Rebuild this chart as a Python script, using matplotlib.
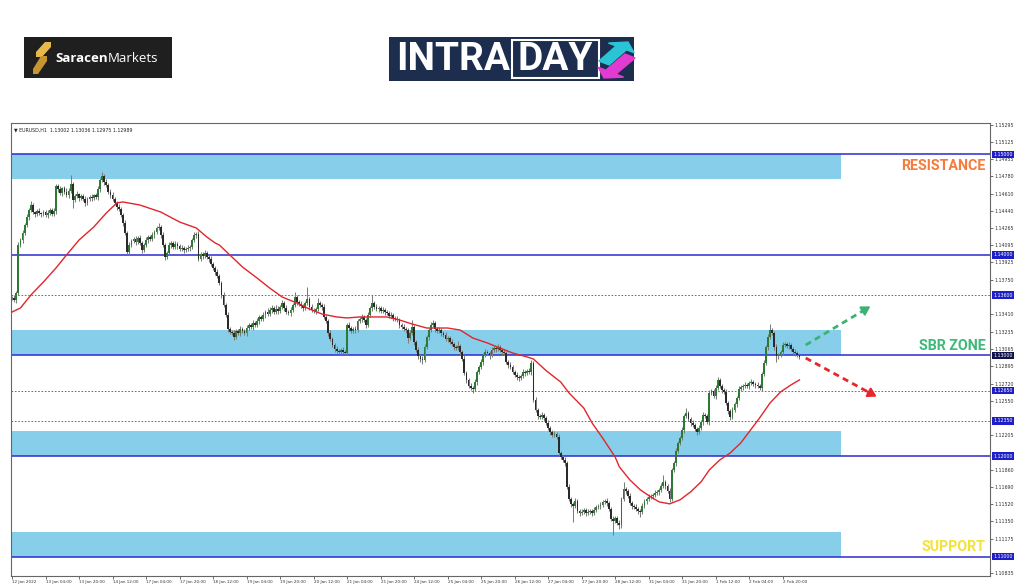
import matplotlib
matplotlib.use("Agg")
import matplotlib.pyplot as plt
import matplotlib.transforms as mtransforms
from matplotlib.patches import Rectangle, Polygon, FancyArrow
import numpy as np

# ---------------- data ----------------
closes = [
    1.1357,1.1355,1.1362,1.1410,1.1415,1.1422,1.1430,1.1438,1.1445,1.1450,
    1.1443,1.1441,1.1444,1.1442,1.1441,1.1443,1.1440,1.1442,1.1445,1.1441,
    1.1444,1.1468,1.1465,1.1462,1.1466,1.1463,1.1460,1.1464,1.1470,1.1455,
    1.1459,1.1461,1.1457,1.1459,1.1456,1.1452,1.1456,1.1458,1.1457,1.1460,
    1.1458,1.1465,1.1474,1.1478,1.1472,1.1469,1.1463,1.1460,1.1456,1.1452,
    1.1448,1.1446,1.1440,1.1432,1.1422,1.1403,1.1410,1.1414,1.1416,1.1413,
    1.1417,1.1412,1.1405,1.1410,1.1415,1.1418,1.1416,1.1420,1.1423,1.1427,
    1.1428,1.1420,1.1410,1.1398,1.1402,1.1410,1.1412,1.1408,1.1411,1.1409,
    1.1406,1.1407,1.1405,1.1406,1.1407,1.1408,1.1415,1.1420,1.1421,1.1396,
    1.1401,1.1399,1.1402,1.1398,1.1396,1.1391,1.1387,1.1383,1.1379,1.1372,
    1.1360,1.1350,1.1340,1.1326,1.1323,1.1322,1.1318,1.1324,1.1322,1.1326,
    1.1324,1.1322,1.1327,1.1330,1.1328,1.1332,1.1330,1.1334,1.1338,1.1336,
    1.1340,1.1343,1.1341,1.1345,1.1347,1.1343,1.1346,1.1344,1.1348,1.1352,
    1.1347,1.1343,1.1342,1.1345,1.1350,1.1358,1.1353,1.1351,1.1349,1.1347,
    1.1352,1.1356,1.1348,1.1345,1.1344,1.1346,1.1352,1.1350,1.1348,1.1338,
    1.1334,1.1322,1.1316,1.1310,1.1306,1.1304,1.1303,1.1305,1.1303,1.1302,
    1.1330,1.1327,1.1324,1.1326,1.1325,1.1334,1.1336,1.1338,1.1335,1.1330,
    1.1340,1.1347,1.1352,1.1348,1.1346,1.1347,1.1344,1.1345,1.1343,1.1342,
    1.1339,1.1340,1.1337,1.1336,1.1335,1.1330,1.1328,1.1326,1.1325,1.1317,
    1.1322,1.1328,1.1313,1.1305,1.1299,1.1297,1.1296,1.1308,1.1318,1.1325,
    1.1330,1.1332,1.1326,1.1324,1.1325,1.1322,1.1320,1.1316,1.1317,1.1313,
    1.1311,1.1308,1.1307,1.1309,1.1303,1.1297,1.1283,1.1276,1.1270,1.1268,
    1.1267,1.1274,1.1284,1.1289,1.1294,1.1300,1.1303,1.1302,1.1300,1.1305,
    1.1307,1.1306,1.1308,1.1305,1.1303,1.1302,1.1294,1.1291,1.1289,1.1284,
    1.1281,1.1279,1.1278,1.1280,1.1284,1.1283,1.1285,1.1284,1.1293,1.1256,
    1.1246,1.1240,1.1239,1.1241,1.1238,1.1233,1.1228,1.1224,1.1221,1.1222,
    1.1219,1.1203,1.1199,1.1196,1.1193,1.1169,1.1157,1.1152,1.1150,1.1155,
    1.1145,1.1143,1.1144,1.1146,1.1143,1.1144,1.1145,1.1143,1.1146,1.1149,
    1.1150,1.1151,1.1154,1.1155,1.1153,1.1147,1.1137,1.1135,1.1138,1.1133,
    1.1131,1.1157,1.1167,1.1165,1.1160,1.1153,1.1150,1.1149,1.1147,1.1145,
    1.1144,1.1150,1.1155,1.1157,1.1159,1.1160,1.1161,1.1163,1.1164,1.1166,
    1.1170,1.1174,1.1170,1.1165,1.1157,1.1186,1.1193,1.1205,1.1213,1.1218,
    1.1226,1.1240,1.1243,1.1237,1.1233,1.1231,1.1227,1.1224,1.1228,1.1234,
    1.1241,1.1240,1.1234,1.1263,1.1265,1.1260,1.1268,1.1276,1.1270,1.1266,
    1.1264,1.1253,1.1245,1.1239,1.1246,1.1252,1.1258,1.1267,1.1269,1.1270,
    1.1271,1.1270,1.1273,1.1274,1.1272,1.1271,1.1270,1.1268,1.1282,1.1293,
    1.1308,1.1318,1.1325,1.1322,1.1308,1.1299,1.1300,1.1303,1.1310,1.1311,
    1.1309,1.1310,1.1306,1.1303,1.1302,1.1300,1.12989,
]

# upper / lower wick length beyond the body, in pips (0.0001)
hi_wick = [
    2,3,2,3,2,3,2,3,2,4,2,1,2,3,1,2,2,3,2,2,
    3,2,2,3,1,2,3,2,9,2,2,3,1,2,2,3,2,2,3,1,
    2,3,2,4,2,3,2,2,3,2,2,3,2,2,3,2,3,2,2,3,
    2,3,2,2,3,2,2,3,2,2,4,2,3,2,2,3,2,2,3,2,
    2,3,2,2,3,2,2,3,2,3,2,2,3,2,2,3,2,2,3,2,
    2,3,2,3,2,2,3,2,2,3,2,2,3,2,2,3,2,3,2,2,
    3,2,4,3,3,2,4,3,2,3,2,3,2,3,2,5,2,2,3,2,
    2,12,2,3,2,2,5,2,2,3,2,2,3,2,2,3,2,2,3,2,
    2,3,2,2,3,2,2,3,2,2,3,2,8,2,3,2,2,3,2,2,
    2,3,2,2,3,2,2,3,2,2,3,7,2,2,3,2,2,3,2,2,
    3,3,2,2,3,2,2,3,2,2,3,2,2,5,2,2,3,2,2,3,
    2,3,2,2,3,2,3,2,2,3,2,2,3,2,2,3,2,2,3,2,
    2,3,2,2,3,2,2,3,3,2,3,2,2,3,2,2,3,2,2,3,
    2,3,2,2,3,2,3,2,2,3,2,2,3,2,2,3,2,2,3,2,
    2,3,2,2,3,2,2,3,2,2,3,2,7,2,2,3,2,2,3,2,
    2,3,2,2,3,2,2,3,2,2,3,7,2,2,3,2,2,3,2,2,
    3,2,5,2,2,3,2,2,3,2,3,2,2,3,2,2,3,3,2,2,
    2,3,2,2,3,2,2,3,2,2,3,2,2,3,2,2,3,2,2,3,
    2,3,6,2,2,3,2,2,3,2,2,3,2,2,3,2,2,
]
lo_wick = [
    2,2,3,2,2,3,2,2,3,2,2,3,2,2,3,2,2,3,2,2,
    2,3,2,2,3,2,2,3,2,8,2,2,3,2,2,3,2,2,3,2,
    2,3,2,2,3,2,2,3,2,2,3,2,2,3,2,2,3,2,2,3,
    2,2,3,2,2,3,2,2,3,2,2,3,2,3,2,2,3,2,2,3,
    2,2,3,2,2,3,2,2,3,2,2,3,2,2,3,2,2,3,2,2,
    3,2,2,3,2,2,3,2,2,3,2,2,3,2,2,3,2,2,3,2,
    2,3,2,2,3,2,2,3,2,2,3,2,2,3,2,2,3,2,2,3,
    2,2,3,2,2,3,2,2,3,2,2,3,2,2,3,2,2,3,2,2,
    2,3,2,2,3,2,2,3,2,3,2,2,3,2,2,3,2,2,3,2,
    2,2,3,2,2,3,2,2,3,5,2,2,3,2,2,3,4,2,2,3,
    2,2,3,2,2,3,2,2,3,2,2,3,2,2,3,2,2,3,2,2,
    4,2,3,2,2,3,2,2,3,2,2,3,2,2,3,2,2,3,2,2,
    2,3,3,2,2,3,2,2,3,2,2,3,2,2,3,2,2,3,2,2,
    2,3,2,2,3,2,2,3,16,2,2,3,2,2,3,2,2,3,2,2,
    2,3,2,2,3,2,2,13,2,2,3,2,2,3,2,2,3,2,2,3,
    5,2,2,3,2,2,3,2,2,3,2,2,3,2,3,2,2,3,2,2,
    2,3,2,2,3,2,2,3,2,2,3,2,2,3,2,2,3,2,2,3,
    2,2,3,3,2,2,3,2,2,3,2,2,3,2,2,3,2,2,3,2,
    2,3,2,2,3,5,2,2,3,2,2,3,2,2,3,2,2,
]

# moving average
ma_bars = [0,4,9,15,21,26,32,39,45,50,53,61,71,80,88,93,97,99,104,110,
           117,123,129,136,142,148,155,160,166,172,179,185,191,198,208,214,220,227,233,239,
           246,249,255,262,266,273,277,282,288,290,295,300,305,309,314,319,324,329,333,338,
           343,348,352,357,362,367,372,376]
ma_vals = [1.13432,1.13472,1.13601,1.13731,1.13870,1.13999,1.14148,1.14277,1.14416,1.14516,
           1.14526,1.14496,1.14426,1.14327,1.14267,1.14178,1.14118,1.14098,1.13999,1.13880,
           1.13770,1.13671,1.13581,1.13522,1.13462,1.13412,1.13383,1.13373,1.13383,1.13383,
           1.13383,1.13353,1.13313,1.13273,1.13273,1.13253,1.13174,1.13124,1.13074,1.13025,
           1.12985,1.12965,1.12850,1.12736,1.12627,1.12478,1.12329,1.12180,1.11991,1.11893,
           1.11764,1.11665,1.11594,1.11545,1.11525,1.11565,1.11644,1.11743,1.11863,1.11962,
           1.12032,1.12131,1.12241,1.12380,1.12529,1.12638,1.12708,1.12757]

x_tick_labels = ["12 Jan 2022","13 Jan 04:00","13 Jan 20:00","14 Jan 12:00","17 Jan 04:00",
                 "17 Jan 20:00","18 Jan 12:00","19 Jan 04:00","19 Jan 20:00","20 Jan 12:00",
                 "21 Jan 04:00","21 Jan 20:00","24 Jan 12:00","25 Jan 04:00","25 Jan 20:00",
                 "26 Jan 12:00","27 Jan 04:00","27 Jan 20:00","28 Jan 12:00","31 Jan 04:00",
                 "31 Jan 20:00","1 Feb 12:00","2 Feb 04:00","2 Feb 20:00"]
bars_per_label = 16

# visible price-scale labels (the ones not hidden behind the highlighted level boxes)
y_ticks = [1.15295,1.15125,1.14955,1.14780,1.14610,1.14440,1.14265,1.14095,1.13925,1.13750,
           1.13410,1.13235,1.13065,1.12895,1.12720,1.12550,1.12205,
           1.11860,1.11690,1.11520,1.11350,1.11175,1.10835]

solid_levels = [1.15, 1.14, 1.13, 1.12, 1.11]
dotted_levels = [1.136, 1.1265, 1.1235]
highlight_levels = [1.15000, 1.14000, 1.13600, 1.13000, 1.12650, 1.12350, 1.12000, 1.11000]

zones = [(1.1475, 1.1500), (1.1300, 1.1325), (1.1200, 1.1225), (1.1100, 1.1125)]
zone_end_bar = 396

zone_labels = [("RESISTANCE", 1.14883, "#f47c3c"),
               ("SBR ZONE", 1.13094, "#3dba79"),
               ("SUPPORT", 1.11096, "#f4e23c")]
label_bar = 465

arrow_up = [(379, 1.13104), (411, 1.13502)]
arrow_down = [(379, 1.12975), (414, 1.12578)]

header = "\u25bc EURUSD,H1  1.13002 1.13036 1.12975 1.12989"

# ---------------- figure ----------------
W, H = 1024, 587
fig = plt.figure(figsize=(W/100, H/100), dpi=100)
fig.patch.set_facecolor("white")

def fx(px): return px / W
def fy(py): return 1 - py / H

ax = fig.add_axes([fx(11), fy(576), fx(990) - fx(11), fy(123) - fy(576)])
ax.set_xlim(-0.5, 467)
ax.set_ylim(1.10808, 1.15311)

# zones
for lo, hi in zones:
    ax.add_patch(Rectangle((-0.5, lo), zone_end_bar + 0.5, hi - lo,
                           facecolor="#87ceeb", edgecolor="none", zorder=1))

for lv in solid_levels:
    ax.axhline(lv, color="#2b2bd0", lw=1.1, zorder=2)
for lv in dotted_levels:
    ax.axhline(lv, color="#4a4ac8", lw=0.6, ls=(0, (2, 2)), zorder=2)

# candles
c = np.array(closes)
o = np.concatenate([[c[0]], c[:-1]])
hi = np.maximum(o, c) + np.array(hi_wick) * 1e-4
lo = np.minimum(o, c) - np.array(lo_wick) * 1e-4
x = np.arange(len(c))
ax.vlines(x, lo, hi, color="#7c7c7c", lw=0.75, zorder=3)
bull = c >= o
body_h = np.maximum(np.abs(c - o), 0.00005)
ax.bar(x[bull], body_h[bull], bottom=np.minimum(o, c)[bull], width=0.85,
       color="#2e7a32", edgecolor="none", zorder=4)
ax.bar(x[~bull], body_h[~bull], bottom=np.minimum(o, c)[~bull], width=0.85,
       color="#2a2a2a", edgecolor="none", zorder=4)

# MA
ax.plot(ma_bars, ma_vals, color="#e0262c", lw=1.0, zorder=5)

# arrows
for pts, col in [(arrow_up, "#3cb371"), (arrow_down, "#e8262a")]:
    (x0, y0), (x1, y1) = pts
    ax.plot([x0, x0 + (x1 - x0) * 0.85], [y0, y0 + (y1 - y0) * 0.85],
            color=col, lw=2.0, ls=(0, (2.2, 1.6)), zorder=6)
    ax.annotate("", xy=(x1, y1), xytext=(x0 + (x1 - x0) * 0.8, y0 + (y1 - y0) * 0.8),
                arrowprops=dict(arrowstyle="-|>,head_length=0.5,head_width=0.3",
                                color=col, lw=1.5), zorder=6)

# zone labels
for txt, yv, col in zone_labels:
    ax.text(label_bar, yv, txt, color=col, fontsize=10.3, fontweight="bold",
            family=["Roboto", "DejaVu Sans"], ha="right", va="center", zorder=7)

# header
ax.text(0.003, 0.99, header, transform=ax.transAxes, fontsize=3.4, color="#222",
        ha="left", va="top", family=["DejaVu Sans"])

# axes styling
for s in ax.spines.values():
    s.set_color("#666")
    s.set_linewidth(0.8)
ax.yaxis.tick_right()
ax.set_yticks(y_ticks)
ax.set_yticklabels([f"{v:.5f}" for v in y_ticks])
ax.tick_params(axis="y", labelsize=3.4, length=2, width=0.5, pad=1.5, colors="#333")
tick_pos = [i * bars_per_label for i in range(len(x_tick_labels))]
ax.set_xticks(tick_pos)
ax.set_xticklabels(x_tick_labels, ha="left")
ax.tick_params(axis="x", labelsize=3.0, length=2, width=0.5, pad=1, colors="#333")

trans = mtransforms.blended_transform_factory(ax.transAxes, ax.transData)
for lv in highlight_levels:
    fc = "#10104a" if abs(lv - 1.13) < 1e-9 else "#1e1ec8"
    ax.text(1.0 + 3 / 979, lv, f"{lv:.5f}", transform=trans, fontsize=3.4, color="white",
            ha="left", va="center", zorder=10, clip_on=False,
            bbox=dict(boxstyle="square,pad=0.25", fc=fc, ec="none"))

# ---------------- logos ----------------
fig.patches.append(Rectangle((fx(24), fy(78)), fx(172) - fx(24), fy(37) - fy(78),
                             transform=fig.transFigure, facecolor="#1f1f1f", edgecolor="none"))
# gold S icon
s1 = [(45, 42), (51, 42), (51, 47), (42, 57), (36, 57), (36, 52)]
s2 = [(41, 56), (47, 56), (47, 61), (38, 74), (33, 74), (33, 69)]
for poly, col in [(s1, "#e6b94a"), (s2, "#c7952f")]:
    fig.patches.append(Polygon([(fx(a), fy(b)) for a, b in poly], closed=True,
                               transform=fig.transFigure, facecolor=col, edgecolor="none"))
t1 = fig.text(fx(55), fy(58), "Saracen", color="white", fontsize=9.5, fontweight="bold",
              family=["Open Sans", "DejaVu Sans"], ha="left", va="center")
renderer = fig.canvas.get_renderer()
bb = t1.get_window_extent(renderer=renderer)
fig.text(bb.x1 / W + 0.0005, fy(58), "Markets", color="white", fontsize=9.5,
         family=["Open Sans", "DejaVu Sans"], ha="left", va="center")

fig.patches.append(Rectangle((fx(389), fy(81)), fx(634) - fx(389), fy(37) - fy(81),
                             transform=fig.transFigure, facecolor="#1c2d4e", edgecolor="none"))
fig.patches.append(Rectangle((fx(512), fy(78)), fx(599) - fx(512), fy(40) - fy(78),
                             transform=fig.transFigure, facecolor="none", edgecolor="white", lw=1.5))
fig.text(fx(453), fy(60), "INTRA", color="white", fontsize=28, fontweight="bold",
         family=["Roboto", "DejaVu Sans"], ha="center", va="center")
fig.text(fx(555.5), fy(60), "DAY", color="white", fontsize=28, fontweight="bold",
         family=["Roboto", "DejaVu Sans"], ha="center", va="center")
fig.patches.append(FancyArrow(fx(604), fy(63), fx(628) - fx(604), fy(42) - fy(63),
                              width=0.012, head_width=0.03, head_length=0.012,
                              length_includes_head=True, transform=fig.transFigure,
                              color="#2bc4d6"))
fig.patches.append(FancyArrow(fx(630), fy(56), fx(604) - fx(630), fy(78) - fy(56),
                              width=0.012, head_width=0.03, head_length=0.012,
                              length_includes_head=True, transform=fig.transFigure,
                              color="#e23bd2"))

fig.savefig("out.png", dpi=100)
